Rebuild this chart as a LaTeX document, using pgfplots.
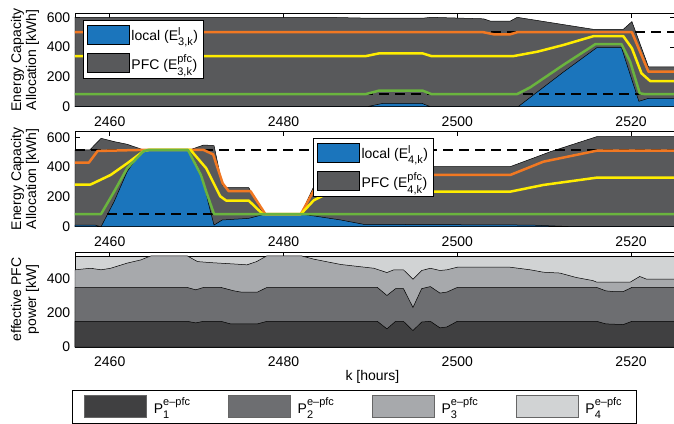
\documentclass[border=0pt]{standalone}
\usepackage{fontspec}
\setmainfont{Liberation Sans}
\usepackage{amsmath}
\usepackage{pgfplots}
\pgfplotsset{compat=1.18}

\definecolor{pfc}{RGB}{88,89,91}
\definecolor{loc}{RGB}{27,117,188}
\definecolor{org}{RGB}{241,120,34}
\definecolor{yel}{RGB}{255,237,0}
\definecolor{grn}{RGB}{106,180,62}
\definecolor{pa}{RGB}{64,64,65}
\definecolor{pb}{RGB}{109,110,113}
\definecolor{pc}{RGB}{167,169,172}
\definecolor{pd}{RGB}{209,211,212}

\newcommand{\sm}[1]{\text{\fontsize{11}{11}\selectfont #1}}

\pgfplotsset{
 myaxis/.style={
   scale only axis, width=599.5pt, xmin=2456, xmax=2525,
   xtick={2460,2480,2500,2520},
   tick align=inside, tick pos=both, major tick length=5pt,
   axis line style={line width=0.8pt},
   every tick/.style={black, line width=0.6pt},
   /pgf/number format/assume math mode=true,
   /pgf/number format/1000 sep={},
   xticklabel style={yshift=-5pt},
   ticklabel style={font=\fontsize{14}{16}\selectfont},
   every axis y label/.style={at={(axis description cs:-0.0834,0.5)},rotate=90,anchor=center,align=center,font=\fontsize{14}{15}\selectfont},
 },
 boxleg/.style={legend image code/.code={\draw[##1,draw=black,line width=0.6pt] (0pt,-9.5pt) rectangle (42pt,9.5pt);}},
 boxlegB/.style={legend image code/.code={\draw[##1,draw=black!60,line width=0.5pt] (0pt,-11pt) rectangle (62pt,11pt);}},
 topleg/.style={legend style={draw=black,line width=0.8pt,fill=white,font=\fontsize{14}{16}\selectfont,legend cell align=left,anchor=north west,inner xsep=3.5pt,inner ysep=4.5pt,row sep=8pt}},
 ln/.style={line width=2.5pt, no marks, forget plot, line join=round},
 dsh/.style={black, line width=2pt, dash pattern=on 10pt off 6pt, no marks, forget plot},
 ar/.style={draw=black, line width=0.5pt, no marks, forget plot},
}

\begin{document}
\fontsize{14pt}{16pt}\selectfont
\begin{tikzpicture}
% ---------------- top panel (E3) ----------------
\begin{axis}[myaxis, at={(75pt,316.3pt)}, anchor=south west, height=93.4pt,
  ymin=0, ymax=627, ytick={0,200,400,600},
  ylabel={Energy Capacity\\Allocation [kWh]},
  topleg, legend style={at={(axis description cs:0.0133,0.928)}}]
\addplot[ar, fill=pfc] coordinates {(2456,600) (2485,600) (2490,594) (2496,594) (2497,600) (2503,590) (2503.8,575) (2506.1,575) (2506.9,600) (2515.7,519) (2519.1,519) (2520.1,571) (2522.0,268) (2525,268)} \closedcycle;
\addplot[ar, fill=loc] coordinates {(2456,0) (2489.6,0) (2491.5,23) (2495.9,23) (2496.9,0) (2507,0) (2512.2,232) (2516.05,396) (2518.9,396) (2520.1,179) (2520.9,36) (2522,56) (2525,56)} \closedcycle;
\addplot[dsh] coordinates {(2456,500) (2525,500)};
\addplot[dsh] coordinates {(2456,85) (2525,85)};
\addplot[ln, org] coordinates {(2456,500) (2503.0,500) (2504.2,486) (2506.1,486) (2506.9,500) (2520.1,500) (2522.0,235) (2525,235)};
\addplot[ln, yel] coordinates {(2456,340) (2489.5,340) (2491,358) (2496,358) (2497,340) (2506.5,340) (2509.2,369) (2512.2,414) (2515.7,474) (2519.1,474) (2520.1,392) (2521.2,224) (2522.2,172) (2525,172)};
\addplot[ln, grn] coordinates {(2456,85) (2489.5,85) (2491,108) (2496,108) (2497,85) (2506.9,85) (2508.4,130) (2512.2,280) (2515.9,420) (2518.9,420) (2519.9,302) (2521.0,90) (2521.5,85) (2525,85)};
\addlegendimage{boxleg, fill=loc}
\addlegendentry{local (E$^{\sm{l}}_{\sm{3,k}}$)}
\addlegendimage{boxleg, fill=pfc}
\addlegendentry{PFC (E$^{\sm{pfc}}_{\sm{3,k}}$)}
\end{axis}

% ---------------- middle panel (E4) ----------------
\begin{axis}[myaxis, at={(75pt,196.3pt)}, anchor=south west, height=95.7pt,
  ymin=0, ymax=642, ytick={0,200,400,600},
  ylabel={Energy Capacity\\Allocation [kWh]},
  topleg, legend style={at={(axis description cs:0.397,0.927)}}]
\addplot[ar, fill=pfc] coordinates {(2456,515) (2457.7,515) (2459.0,593) (2460.5,571) (2462.0,553) (2463.9,515) (2469.2,515) (2470.8,548) (2472.0,544) (2472.95,280) (2473.5,262) (2476.0,262) (2477.7,85) (2482.0,85) (2483.5,272) (2486,403) (2506.1,403) (2509.2,470) (2510.7,503) (2516.05,604) (2525,604)} \closedcycle;
\addplot[ar, fill=loc] coordinates {(2456,11) (2458.3,11) (2458.9,0) (2459.0,0) (2460.5,168) (2462.0,369) (2463.2,470) (2463.9,515) (2469.1,515) (2470.6,347) (2471.4,146) (2472.0,11) (2472.95,45) (2476.0,56) (2477.9,85) (2482.0,85) (2486.6,45) (2489.2,16) (2508.4,11) (2513.4,0) (2525,0)} \closedcycle;
\addplot[dsh] coordinates {(2456,515) (2525,515)};
\addplot[dsh] coordinates {(2456,85) (2525,85)};
\addplot[ln, org] coordinates {(2456,430) (2457.6,430) (2458.6,508) (2463.5,515) (2470.8,515) (2471.9,485) (2473.0,290) (2473.7,238) (2476.2,238) (2477.9,85) (2482.0,85) (2483.5,245) (2485,347) (2506.1,347) (2509.9,436) (2516.05,510) (2525,510)};
\addplot[ln, yel] coordinates {(2456,283) (2457.8,283) (2460.1,347) (2462.0,425) (2463.9,508) (2464.5,515) (2469.3,515) (2471.1,392) (2472.7,205) (2473.4,175) (2476.0,175) (2477.6,85) (2482.0,85) (2483.5,178) (2485.5,235) (2506.1,235) (2509.9,280) (2516.05,329) (2525,329)};
\addplot[ln, grn] coordinates {(2456,85) (2459.0,85) (2460.5,235) (2462.0,392) (2463.9,508) (2464.5,515) (2469.0,515) (2470.5,347) (2471.1,235) (2472.0,85) (2525,85)};
\addlegendimage{boxleg, fill=loc}
\addlegendentry{local (E$^{\sm{l}}_{\sm{4,k}}$)}
\addlegendimage{boxleg, fill=pfc}
\addlegendentry{PFC (E$^{\sm{pfc}}_{\sm{4,k}}$)}
\end{axis}

% ---------------- bottom panel ----------------
\begin{axis}[myaxis, at={(75pt,76pt)}, anchor=south west, height=95pt,
  ymin=0, ymax=555, ytick={0,200,400},
  ylabel={effective PFC\\power [kW]},
  xlabel={k [hours]},
  xlabel style={at={(axis description cs:0.496,-0.316)}, anchor=center, font=\fontsize{14}{16}\selectfont},
  legend columns=4,
  legend style={at={(axis description cs:-0.005,-0.4526)}, anchor=north west, draw=black, line width=0.8pt, fill=white,
    font=\fontsize{14}{16}\selectfont, inner xsep=12pt, inner ysep=5pt,
    /tikz/every odd column/.append style={column sep=5pt},
    /tikz/every even column/.append style={column sep=35.6pt},
    /tikz/column 8/.style={column sep=6pt}}]
\addplot[ar, fill=pd] coordinates {(2456,533) (2525,533)} \closedcycle;
\addplot[ar, fill=pc] coordinates {(2456,451) (2457.8,460) (2459.0,451) (2460.1,460) (2462.0,490) (2463.6,509) (2464.3,524) (2464.8,533) (2468.9,533) (2470.1,499) (2471.6,493) (2474.3,485) (2475.8,480) (2476.9,499) (2478.1,533) (2482.0,533) (2483.5,513) (2486.6,482) (2490.4,460) (2491.9,435) (2492.7,451) (2493.8,451) (2494.9,396) (2495.9,447) (2496.9,460) (2498.0,447) (2498.8,451) (2500.0,466) (2506.1,466) (2508.4,451) (2509.9,437) (2511.8,432) (2513.7,406) (2515.6,388) (2516.05,379) (2519.9,379) (2521.0,412) (2521.8,396) (2525,396)} \closedcycle;
\addplot[ar, fill=pb] coordinates {(2456,348) (2468.9,348) (2469.9,334) (2470.8,348) (2472.8,348) (2474.3,328) (2475.1,321) (2477.0,321) (2478.1,348) (2490.8,348) (2491.9,301) (2492.9,341) (2493.8,341) (2494.9,231) (2495.9,341) (2496.9,353) (2498.0,315) (2498.8,321) (2500.0,348) (2516.05,348) (2517.1,328) (2517.96,324) (2519.1,324) (2520.1,348) (2525,348)} \closedcycle;
\addplot[ar, fill=pa] coordinates {(2456,150) (2468.9,150) (2469.9,141) (2470.8,150) (2472.8,150) (2473.9,135) (2477.0,135) (2478.1,150) (2490.8,150) (2491.9,106) (2492.9,150) (2493.8,150) (2494.9,96) (2495.9,146) (2496.9,150) (2498.0,112) (2498.8,117) (2500.0,150) (2516.05,150) (2517.1,135) (2519.1,131) (2520.1,150) (2525,150)} \closedcycle;
\addlegendimage{boxlegB, fill=pa}
\addlegendentry{P$^{\sm{e\textendash pfc}}_{\sm{1}}$}
\addlegendimage{boxlegB, fill=pb}
\addlegendentry{P$^{\sm{e\textendash pfc}}_{\sm{2}}$}
\addlegendimage{boxlegB, fill=pc}
\addlegendentry{P$^{\sm{e\textendash pfc}}_{\sm{3}}$}
\addlegendimage{boxlegB, fill=pd}
\addlegendentry{P$^{\sm{e\textendash pfc}}_{\sm{4}}$}
\end{axis}
\pgfresetboundingbox
\useasboundingbox (0pt,0pt) rectangle (674pt,423pt);
\end{tikzpicture}
\end{document}
